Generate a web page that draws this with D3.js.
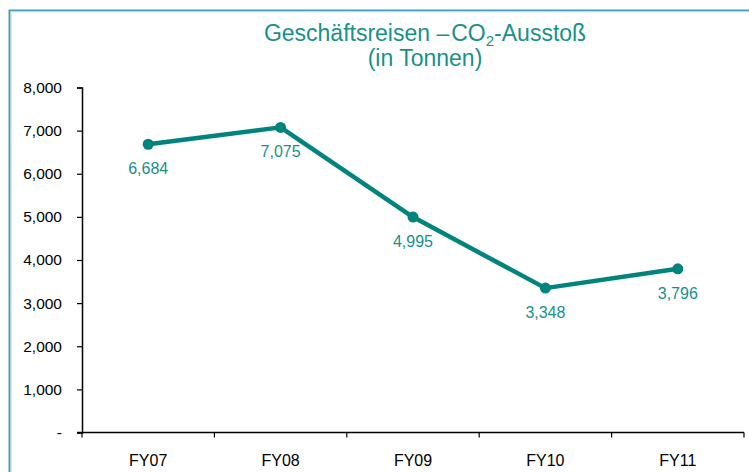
<!DOCTYPE html>
<html><head><meta charset="utf-8">
<script src="https://cdn.jsdelivr.net/npm/d3@7"></script>
<style>body{margin:0;background:#fff;} svg{display:block;}</style>
</head><body>
<svg id="c" width="749" height="472"></svg>
<script>
const categories = ["FY07","FY08","FY09","FY10","FY11"];
const values = [6684, 7075, 4995, 3348, 3796];
const labels = ["6,684","7,075","4,995","3,348","3,796"];
const yTicks = [0,1000,2000,3000,4000,5000,6000,7000,8000];
const yTickLabels = ["-","1,000","2,000","3,000","4,000","5,000","6,000","7,000","8,000"];

const svg = d3.select("#c");
const teal = "#00847c";
const textTeal = "#17918a";
const font = "'Liberation Sans', Arial, sans-serif";

// frame
svg.append("path").attr("d","M9.5,472 V10.5 H749").attr("fill","none").attr("stroke","#4a9db8").attr("stroke-width",2);
svg.append("line").attr("x1",10.5).attr("x2",749).attr("y1",12).attr("y2",12).attr("stroke","#d5e8ee").attr("stroke-width",1);
svg.append("line").attr("x1",11.5).attr("x2",11.5).attr("y1",12).attr("y2",472).attr("stroke","#d5e8ee").attr("stroke-width",1);

const x = d3.scaleBand().domain(categories).range([82, 744]);
const y = d3.scaleLinear().domain([0, 8000]).range([432.5, 87.5]);

// title
const title = svg.append("text").attr("x", 425).attr("y", 41).attr("text-anchor","middle")
  .attr("font-family", font).attr("font-size", 23).attr("fill", textTeal);
title.append("tspan").text("Geschäftsreisen –");
title.append("tspan").attr("dx", 2).text("CO");
title.append("tspan").attr("font-size", 15).attr("dy", 5).text("2");
title.append("tspan").attr("dy", -5).text("-Ausstoß");
svg.append("text").attr("x", 425).attr("y", 66).attr("text-anchor","middle")
  .attr("font-family", font).attr("font-size", 23).attr("fill", textTeal).text("(in Tonnen)");

// y axis
const yAxis = d3.axisLeft(y).tickValues(yTicks).tickSize(5).tickPadding(15)
  .tickFormat(d => yTickLabels[yTicks.indexOf(d)]);
const gy = svg.append("g").attr("transform","translate(82,0)").call(yAxis);
gy.select(".domain").attr("stroke","#000").attr("stroke-width",1.5);
gy.selectAll(".tick line").attr("stroke","#000").attr("stroke-width",1.2);
gy.selectAll("text").attr("font-family", font).attr("font-size", 15.5).attr("fill","#000");

// x axis
const gx = svg.append("g").attr("transform","translate(0,432.5)");
gx.append("line").attr("x1",77).attr("x2",744).attr("y1",0).attr("y2",0).attr("stroke","#000").attr("stroke-width",1.5);
const bounds = categories.map(c => x(c)).concat([x(categories[categories.length-1]) + x.bandwidth()]);
gx.selectAll("line.t").data(bounds).join("line").attr("class","t")
  .attr("x1", d => d).attr("x2", d => d).attr("y1", 0).attr("y2", 5).attr("stroke","#000").attr("stroke-width",1.2);
gx.selectAll("text").data(categories).join("text")
  .attr("x", d => x(d) + x.bandwidth()/2).attr("y", 33).attr("text-anchor","middle")
  .attr("font-family", font).attr("font-size", 16).attr("fill","#000").text(d => d);

// line
const cx = (d,i) => x(categories[i]) + x.bandwidth()/2;
const line = d3.line().x((d,i) => cx(d,i)).y(d => y(d));
svg.append("path").datum(values).attr("d", line).attr("fill","none")
  .attr("stroke", teal).attr("stroke-width", 4.5).attr("stroke-linejoin","round");
svg.selectAll("circle.p").data(values).join("circle").attr("class","p")
  .attr("cx", cx).attr("cy", d => y(d)).attr("r", 5.5).attr("fill", teal);
svg.selectAll("text.lbl").data(values).join("text").attr("class","lbl")
  .attr("x", cx).attr("y", d => y(d) + 30).attr("text-anchor","middle")
  .attr("font-family", font).attr("font-size", 16).attr("fill", textTeal)
  .text((d,i) => labels[i]);
</script>
</body></html>
